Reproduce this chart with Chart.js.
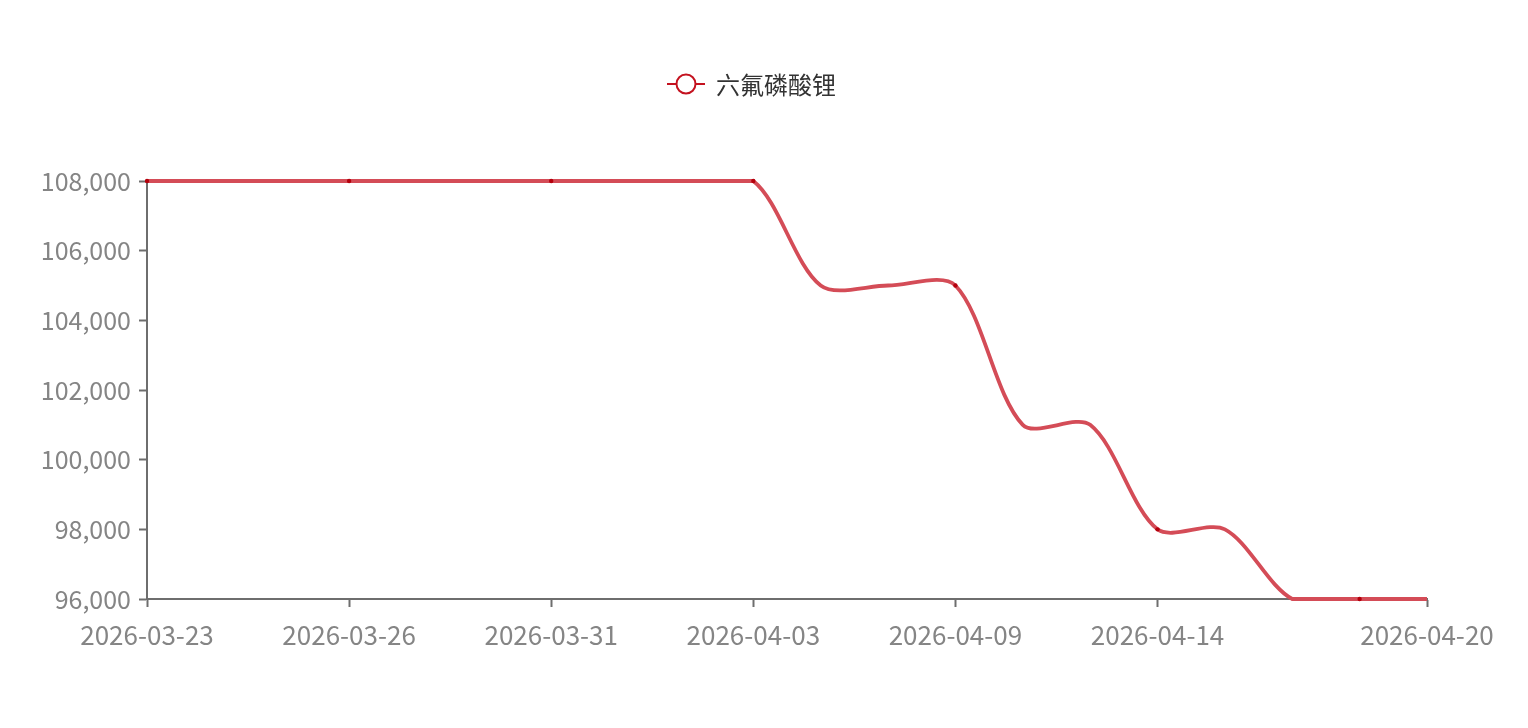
<!DOCTYPE html>
<html>
<head>
<meta charset="utf-8">
<script src="https://cdn.jsdelivr.net/npm/chart.js@4/dist/chart.umd.min.js"></script>
<style>
  html, body { margin: 0; padding: 0; background: #fff; }
  #wrap { width: 1528px; height: 728px; }
</style>
</head>
<body>
<div id="wrap"><canvas id="priceChart"></canvas></div>
<script>
// --- data ---
const dates = [
    '2026-03-23', '2026-03-24', '2026-03-25', '2026-03-26', '2026-03-27',
    '2026-03-30', '2026-03-31', '2026-04-01', '2026-04-02', '2026-04-03',
    '2026-04-07', '2026-04-08', '2026-04-09', '2026-04-10', '2026-04-13',
    '2026-04-14', '2026-04-15', '2026-04-16', '2026-04-17', '2026-04-20'
];
const prices = [
    108000, 108000, 108000, 108000, 108000,
    108000, 108000, 108000, 108000, 108000,
    105000, 105000, 105000, 101000, 101000,
    98000, 98000, 96000, 96000, 96000
];
const seriesName = '六氟磷酸锂';
const yTicks = { min: 96000, max: 108000, step: 2000 };

const FONT = "'Noto Sans CJK SC', 'Noto Sans', sans-serif";
const AXIS_GREY = '#6e6e6e';
const LABEL_GREY = '#858585';

// x labels: every 3rd day, but the last one replaces the 18th
function showLabel(i) {
    return (i % 3 === 0 && i < dates.length - 2) || i === dates.length - 1;
}

// legend drawn like the echarts one: short line with a hollow circle
const legendPlugin = {
    id: 'lineLegend',
    afterDraw(chart) {
        const ctx = chart.ctx;
        ctx.save();
        ctx.strokeStyle = '#c4121f';
        ctx.lineWidth = 2;
        ctx.beginPath();
        ctx.moveTo(667, 84); ctx.lineTo(705, 84);
        ctx.stroke();
        ctx.beginPath();
        ctx.arc(686, 84, 9.5, 0, Math.PI * 2);
        ctx.fillStyle = '#fff';
        ctx.fill();
        ctx.stroke();
        ctx.fillStyle = '#333';
        ctx.font = '24px ' + FONT;
        ctx.textBaseline = 'middle';
        ctx.textAlign = 'left';
        ctx.fillText(seriesName, 716, 85);
        ctx.restore();
    }
};

const ctx = document.getElementById('priceChart').getContext('2d');
new Chart(ctx, {
    type: 'line',
    data: {
        labels: dates,
        datasets: [{
            label: seriesName,
            data: prices,
            borderColor: '#d44c57',
            borderWidth: 3.8,
            tension: 0.3,
            fill: false,
            clip: false,
            // symbols only every 3rd day, like the reference
            pointRadius: c => c.dataIndex % 3 === 0 ? 2.2 : 0,
            pointBackgroundColor: '#b5000c',
            pointBorderWidth: 0,
            pointHoverRadius: 0
        }]
    },
    plugins: [legendPlugin],
    options: {
        responsive: true, maintainAspectRatio: false,
        animation: false,
        layout: { padding: { top: 181, right: 101, bottom: 0, left: 0 } },
        plugins: { legend: { display: false }, tooltip: { enabled: false } },
        scales: {
            x: {
                type: 'category',
                offset: false,
                afterFit: s => { s.height = 129; },
                border: { color: AXIS_GREY, width: 2 },
                grid: {
                    drawOnChartArea: false,
                    tickLength: 8,
                    tickWidth: 2,
                    color: c => showLabel(c.index) ? AXIS_GREY : 'rgba(0,0,0,0)'
                },
                ticks: {
                    autoSkip: false, maxRotation: 0,
                    padding: 13,
                    color: LABEL_GREY,
                    font: { family: FONT, size: 26 },
                    callback: (v, i) => showLabel(i) ? dates[i] : ''
                }
            },
            y: {
                min: yTicks.min, max: yTicks.max,
                afterFit: s => { s.width = 147; },
                border: { color: AXIS_GREY, width: 2 },
                grid: { drawOnChartArea: false, tickLength: 8, tickWidth: 2, color: AXIS_GREY },
                ticks: {
                    stepSize: yTicks.step,
                    padding: 8,
                    color: LABEL_GREY,
                    font: { family: FONT, size: 25 },
                    callback: v => v.toLocaleString('en-US')
                }
            }
        }
    }
});
</script>
</body>
</html>
